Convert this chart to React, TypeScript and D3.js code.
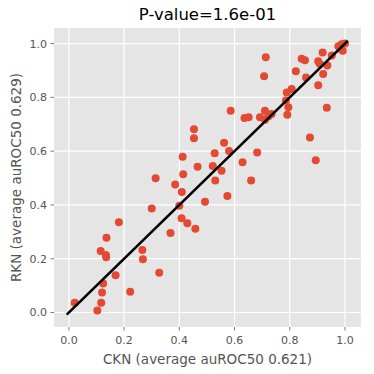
import * as d3 from 'd3';
import React from 'react';

// scatter values (CKN on x, RKN on y)
const cknScores = [
  0.713, 0.707, 0.843, 0.855, 0.919, 0.822, 0.903, 0.909, 0.936, 0.952,
  0.859, 0.921, 0.903, 0.976, 0.988, 1.0, 0.992, 0.982, 0.789, 0.807,
  0.786, 0.795, 0.791, 0.934, 0.586, 0.636, 0.651, 0.692, 0.71, 0.722,
  0.71, 0.734, 0.873, 0.894, 0.682, 0.66, 0.629, 0.562, 0.58, 0.528,
  0.521, 0.553, 0.53, 0.574, 0.493, 0.466, 0.453, 0.453, 0.412, 0.414,
  0.314, 0.385, 0.409, 0.3, 0.4, 0.408, 0.429, 0.458, 0.368, 0.327,
  0.181, 0.136, 0.115, 0.134, 0.135, 0.266, 0.268, 0.169, 0.124, 0.222,
  0.12, 0.117, 0.021, 0.103,
];
const rknScores = [
  0.949, 0.879, 0.944, 0.938, 0.967, 0.897, 0.934, 0.924, 0.919, 0.956,
  0.874, 0.887, 0.845, 0.99, 0.998, 1.0, 0.973, 0.981, 0.818, 0.831,
  0.788, 0.763, 0.735, 0.761, 0.75, 0.723, 0.726, 0.726, 0.75, 0.729,
  0.717, 0.738, 0.651, 0.566, 0.595, 0.491, 0.559, 0.631, 0.601, 0.592,
  0.545, 0.527, 0.491, 0.433, 0.412, 0.542, 0.681, 0.648, 0.579, 0.514,
  0.499, 0.476, 0.448, 0.387, 0.397, 0.35, 0.332, 0.311, 0.296, 0.148,
  0.336, 0.278, 0.229, 0.214, 0.205, 0.232, 0.198, 0.138, 0.108, 0.077,
  0.074, 0.036, 0.036, 0.007,
];
const fitEnds = [-0.008, 1.01];
const ticks = [0, 0.2, 0.4, 0.6, 0.8, 1.0];
const title = 'P-value=1.6e-01';
const xLabel = 'CKN (average auROC50 0.621)';
const yLabel = 'RKN (average auROC50 0.629)';

export default function App() {
  const W = 374, H = 374;
  const plot = {left: 54, right: 361, top: 28, bottom: 327};

  const x = d3.scaleLinear().domain([-0.054, 1.058]).range([plot.left, plot.right]);
  const y = d3.scaleLinear().domain([-0.054, 1.058]).range([plot.bottom, plot.top]);

  const points = cknScores.map((v, i) => [v, rknScores[i]]);
  const line = d3.line<number>().x(d => x(d)).y(d => y(d));

  const font = 'DejaVu Sans, sans-serif';

  return (
    <div style={{position: 'absolute', left: 0, top: 0}}>
      <svg width={W} height={H} style={{display: 'block', background: '#fff'}}>
        <rect x={plot.left} y={plot.top} width={plot.right - plot.left}
          height={plot.bottom - plot.top} fill='#E5E5E5' />

        {/* grid */}
        {ticks.map(t => (
          <g key={'g' + t}>
            <line x1={x(t)} x2={x(t)} y1={plot.top} y2={plot.bottom} stroke='#fff' strokeWidth={1.2} />
            <line x1={plot.left} x2={plot.right} y1={y(t)} y2={y(t)} stroke='#fff' strokeWidth={1.2} />
          </g>
        ))}

        {/* ticks and labels */}
        {ticks.map(t => (
          <g key={'t' + t} fill='#555' fontFamily={font} fontSize={11}>
            <line x1={x(t)} x2={x(t)} y1={plot.bottom} y2={plot.bottom + 3.5} stroke='#555' strokeWidth={0.8} />
            <text x={x(t)} y={plot.bottom + 17} textAnchor='middle'>{d3.format('.1f')(t)}</text>
            <line x1={plot.left - 3.5} x2={plot.left} y1={y(t)} y2={y(t)} stroke='#555' strokeWidth={0.8} />
            <text x={plot.left - 7} y={y(t) + 4} textAnchor='end'>{d3.format('.1f')(t)}</text>
          </g>
        ))}

        {points.map((p, i) => (
          <circle key={i} cx={x(p[0])} cy={y(p[1])} r={4} fill='#E24A33' />
        ))}

        <path d={line(fitEnds) || ''} stroke='#000' strokeWidth={2.6} fill='none' />

        <text x={(plot.left + plot.right) / 2} y={20} textAnchor='middle'
          fontFamily={font} fontSize={16.5} fill='#000'>{title}</text>
        <text x={(plot.left + plot.right) / 2} y={364} textAnchor='middle'
          fontFamily={font} fontSize={13.5} fill='#555'>{xLabel}</text>
        <text transform={`translate(21, ${(plot.top + plot.bottom) / 2}) rotate(-90)`}
          textAnchor='middle' fontFamily={font} fontSize={13.5} fill='#555'>{yLabel}</text>
      </svg>
    </div>
  );
}
